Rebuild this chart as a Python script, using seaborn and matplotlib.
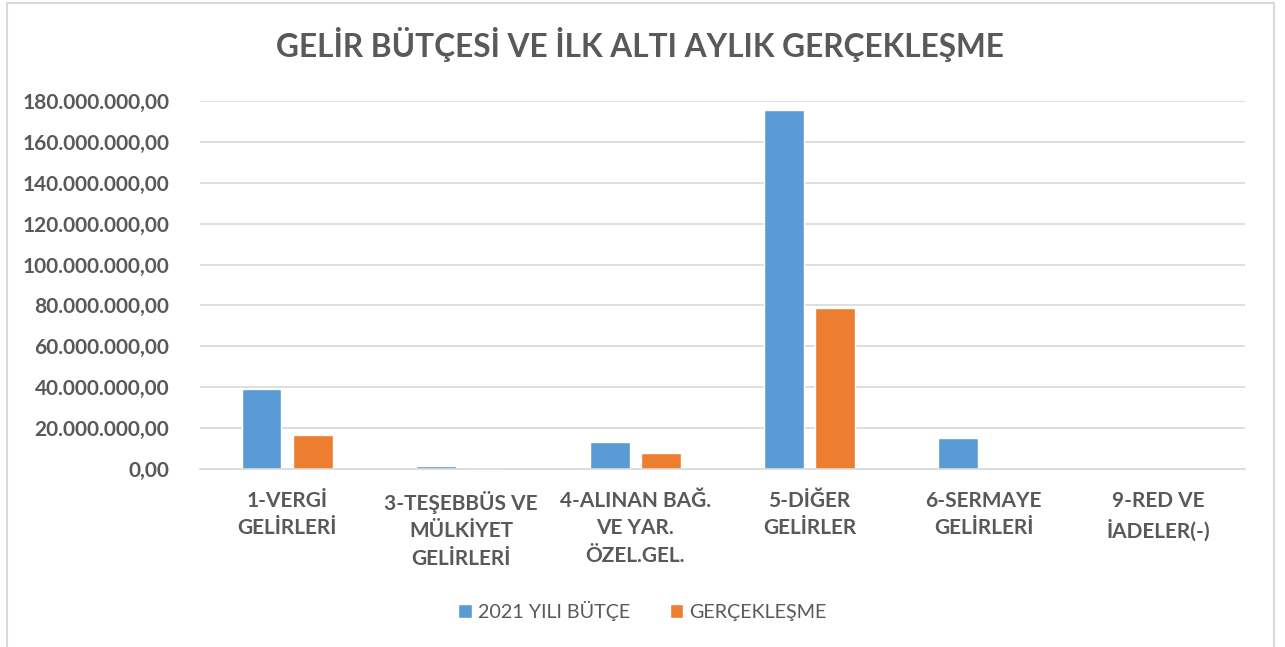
import pandas as pd
import seaborn as sns
import matplotlib.pyplot as plt
from matplotlib.patches import Rectangle
from matplotlib.ticker import FuncFormatter

# ------------------------------------------------------------
# Data
# ------------------------------------------------------------
categories = ["1-VERGİ\nGELİRLERİ", "3-TEŞEBBÜS VE\nMÜLKİYET\nGELİRLERİ",
              "4-ALINAN BAĞ.\nVE YAR.\nÖZEL.GEL.", "5-DİĞER\nGELİRLER",
              "6-SERMAYE\nGELİRLERİ", "9-RED VE\nİADELER(-)"]
budget_2021 = [39_100_000, 1_500_000, 13_200_000, 175_600_000, 15_200_000, 0]
realized = [16_600_000, 700_000, 7_800_000, 78_800_000, 0, 0]
series_names = ["2021 YILI BÜTÇE", "GERÇEKLEŞME"]

df = pd.DataFrame({
    "kategori": categories * 2,
    "seri": [series_names[0]] * 6 + [series_names[1]] * 6,
    "deger": budget_2021 + realized,
})

# ------------------------------------------------------------
# Style
# ------------------------------------------------------------
sns.set_style("white")
plt.rcParams["font.family"] = ["Lato", "DejaVu Sans"]
text_c = "#595959"
colors = ["#5B9BD5", "#ED7D31"]

fig = plt.figure(figsize=(12.85, 6.47), dpi=100)
ax = fig.add_axes([200 / 1285, 1 - 469 / 647, 1045 / 1285, 368 / 647])

sns.barplot(data=df, x="kategori", y="deger", hue="seri", palette=colors,
            width=0.586, gap=0.22, saturation=1, ax=ax, legend=True)

ax.set_ylim(0, 180_000_000)
ax.set_yticks(range(0, 180_000_001, 20_000_000))
ax.yaxis.set_major_formatter(FuncFormatter(
    lambda v, p: f"{v:,.2f}".replace(",", "X").replace(".", ",").replace("X", ".")))
ax.grid(axis="y", color="#D9D9D9", linewidth=1.2)
ax.set_axisbelow(True)
for s in ["top", "right", "left"]:
    ax.spines[s].set_visible(False)
ax.spines["bottom"].set_color("#D9D9D9")
ax.spines["bottom"].set_linewidth(1.2)
ax.set_xlabel("")
ax.set_ylabel("")
ax.tick_params(axis="both", length=0, colors=text_c)
ax.tick_params(axis="y", pad=22)
ax.tick_params(axis="x", pad=16)
for lbl in ax.get_yticklabels() + ax.get_xticklabels():
    lbl.set_fontsize(15)
    lbl.set_fontweight("bold")
    lbl.set_color(text_c)
for lbl in ax.get_xticklabels():
    lbl.set_linespacing(1.45)

handles, labels = ax.get_legend_handles_labels()
ax.legend(handles, labels, loc="center", bbox_to_anchor=(0.5, 1 - 611 / 647),
          bbox_transform=fig.transFigure, ncol=2, frameon=False, fontsize=14.2,
          handlelength=0.7, handleheight=0.7, handletextpad=0.3, columnspacing=2.0,
          labelcolor=text_c)

fig.text(640 / 1285, 1 - 45 / 647, "GELİR BÜTÇESİ VE İLK ALTI AYLIK GERÇEKLEŞME",
         ha="center", va="center", fontsize=22.8, fontweight="bold", color=text_c)

# outer chart border
fig.patches.append(Rectangle((7 / 1285, -0.05), 1267 / 1285, 1.05 - 3 / 647,
                             transform=fig.transFigure, fill=False,
                             edgecolor="#D9D9D9", linewidth=1.5))

fig.savefig("out.png", dpi=100)
